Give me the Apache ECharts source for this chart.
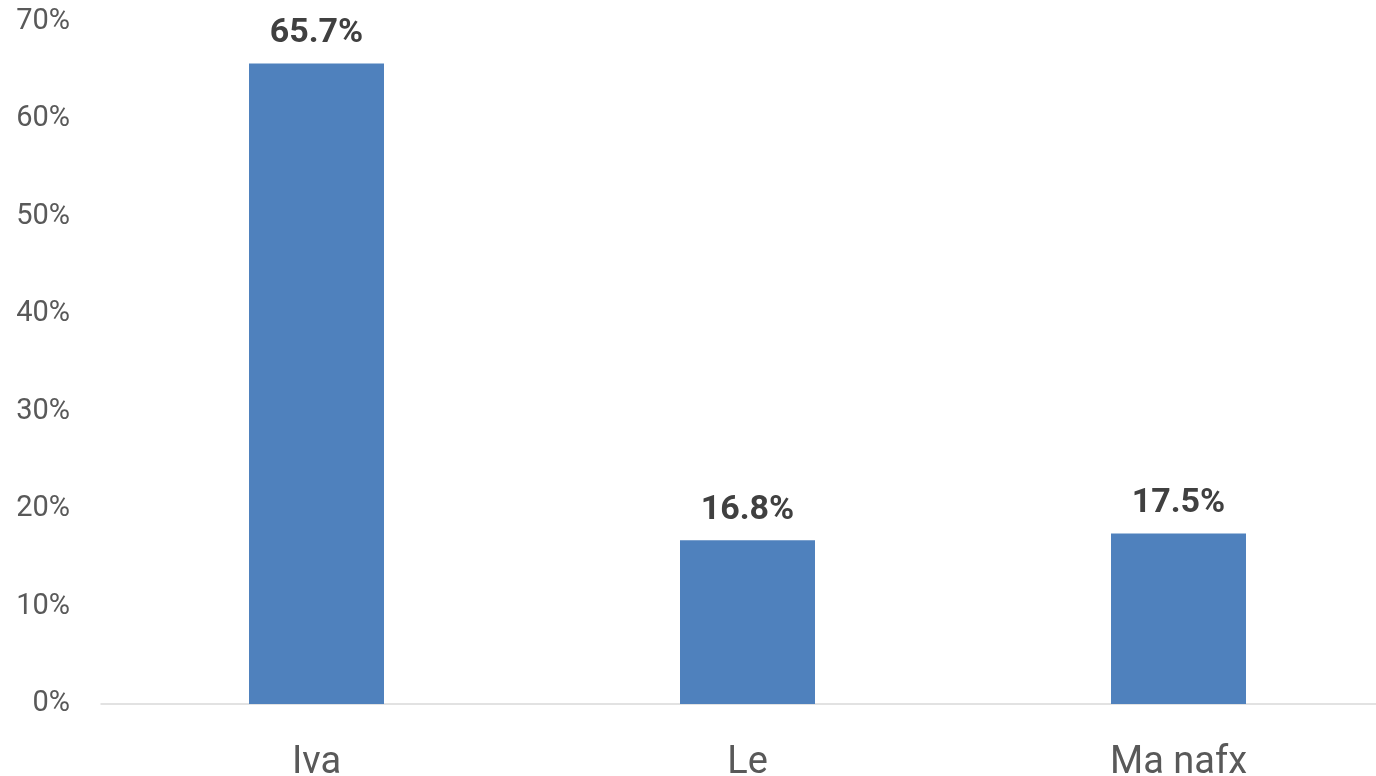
<!DOCTYPE html>
<html>
<head>
<meta charset="utf-8">
<script src="https://cdn.jsdelivr.net/npm/echarts@6/dist/echarts.min.js"></script>
<style>
html,body{margin:0;padding:0;background:#fff;overflow:hidden;width:1376px;height:776px;}
#chart{width:1394px;height:776px;}
</style>
</head>
<body>
<div id="chart"></div>
<script>
const categories = ['Iva', 'Le', 'Ma nafx'];
const values = [65.7, 16.8, 17.5];
const yTicks = [0, 10, 20, 30, 40, 50, 60, 70];

const chart = echarts.init(document.getElementById('chart'));
chart.setOption({
  animation: false,
  backgroundColor: '#ffffff',
  grid: { left: 101, top: 21.5, right: 0, bottom: 72, containLabel: false, outerBoundsMode: 'none' },
  xAxis: {
    type: 'category',
    data: categories,
    axisLine: { show: true, lineStyle: { color: '#d9d9d9', width: 1.5 } },
    axisTick: { show: false },
    axisLabel: { color: '#595959', fontFamily: 'Roboto', fontSize: 38, margin: 40 }
  },
  yAxis: {
    type: 'value',
    min: yTicks[0],
    max: yTicks[yTicks.length - 1],
    interval: 10,
    splitLine: { show: false },
    axisLine: { show: false },
    axisTick: { show: false },
    axisLabel: { color: '#595959', fontFamily: 'Roboto', fontSize: 29, margin: 31, formatter: v => v + '%' }
  },
  series: [{
    type: 'bar',
    data: values,
    barWidth: 135,
    itemStyle: { color: '#4f81bd' },
    label: {
      show: true,
      position: 'top',
      distance: 13,
      color: '#404040',
      fontFamily: 'Roboto',
      fontWeight: 'bold',
      fontSize: 34,
      formatter: p => p.value.toFixed(1) + '%'
    }
  }]
});
</script>
</body>
</html>
